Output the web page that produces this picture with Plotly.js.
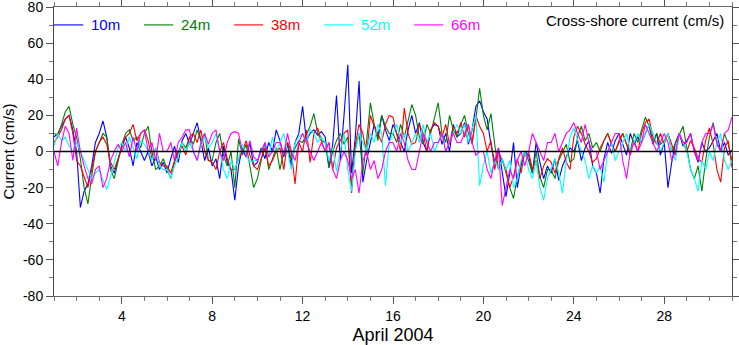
<!DOCTYPE html>
<html>
<head>
<meta charset="utf-8">
<script src="https://cdn.plot.ly/plotly-3.0.1.min.js"></script>
<style>html,body{margin:0;padding:0;background:#fff}#chart{width:739px;height:345px}</style>
</head>
<body>
<div id="chart"></div>
<script>
// Depth labels and colours
const depths = ["10m", "24m", "38m", "52m", "66m"];
const colors = ["#0000ff", "#008000", "#ff0000", "#00ffff", "#ff00ff"];
// Sampling: every 4 hours from April 1 (day 1) to day 31
const startDay = 1, samplesPerDay = 6, nDays = 30;
const xTicks = [4, 8, 12, 16, 20, 24, 28];
const yTicks = [-80, -60, -40, -20, 0, 20, 40, 60, 80];

// Cross-shore current (cm/s), 6 values per day
const cur10 = [
 8,10,14,18,20,12,   0,-31,-22,-18,-8,5,   10,17,8,-8,-12,-5,   3,8,2,-8,5,0,
 -5,0,-8,-3,-10,-6,  -12,-4,3,-6,6,10,     4,10,16,6,-5,2,      -8,-4,-15,3,-6,-10,
 -27,-8,2,-3,5,-8,   -6,2,-4,5,0,12,       6,-3,4,-8,5,10,      25,6,10,12,9,11,
 8,-9,4,31,-5,20,    48,-12,8,39,-17,-5,   5,15,8,20,12,6,      15,10,4,0,12,20,
 10,16,5,0,12,15,    14,4,10,0,15,8,       10,16,4,12,25,28,    22,18,4,-6,2,-12,
 -25,-12,5,-20,-8,0, -2,-12,5,-6,-15,-8,   -12,-4,-16,-8,-3,2,  0,6,-5,2,6,-8,
 -12,-23,-4,5,-1,6,  10,4,-2,10,4,8,       5,10,15,4,10,-2,     5,-20,-6,5,10,3,
 6,10,0,-6,5,0,      2,6,10,0,5,-2,        1
];
const cur24 = [
 10,9,15,22,25,15,   8,-4,-20,-29,-14,0,   5,10,8,-10,-15,-6,   4,10,12,6,8,2,
 10,14,0,-10,-8,-4,  -10,-15,-6,0,5,2,     8,4,12,6,10,-5,      -5,5,10,-2,-8,0,
 -20,7,-2,4,-8,-20,  -15,-5,5,-10,-4,2,    -10,0,5,-5,2,6,      5,10,14,21,10,6,
 5,-9,0,6,10,4,      8,-20,2,10,-12,6,     27,15,6,20,14,10,    10,5,15,8,18,26,
 20,8,4,15,10,18,    27,10,5,20,12,8,      15,20,10,5,18,35,    20,12,21,4,-10,-4,
 -12,-20,-26,-14,-6,0, -5,-12,0,-14,-20,-10, -10,-15,-5,0,4,-6, -4,8,14,6,10,2,
 5,0,6,10,4,0,       5,10,4,0,10,5,        12,19,14,5,10,4,     6,10,0,5,10,14,
 2,-10,-15,-8,-22,-5, 8,16,4,0,10,4,        -5
];
const cur38 = [
 5,8,12,18,20,10,    -5,-8,-14,-20,-10,0,  5,8,4,-6,-10,-4,     2,8,10,15,6,10,
 12,6,-4,2,-6,-8,    -8,-12,-5,0,3,-2,     8,10,5,12,0,-5,      -6,-10,0,5,-4,-10,
 -10,-4,0,6,-2,-8,   -10,-4,2,-8,-5,0,     2,-10,5,0,-18,5,     0,12,-6,10,13,6,
 0,5,-10,2,6,10,     12,-23,4,15,10,-2,    20,14,10,5,15,20,    19,10,0,24,10,4,
 5,15,10,0,12,16,    14,8,15,4,14,10,      16,8,15,4,20,14,     10,0,6,-10,0,-5,
 -10,-20,-14,-4,-12,0, 0,-10,-5,-15,-8,-4, -6,-12,-4,2,-6,-10,  8,14,10,4,0,-6,
 -4,2,6,10,4,0,      6,10,4,-2,6,0,        10,16,18,8,4,10,     4,10,4,-2,10,5,
 0,6,2,-4,-6,6,      13,4,-10,-17,2,6,     -9
];
const cur52 = [
 3,10,6,8,3,0,       5,0,-6,-10,-15,-12,   -10,-16,-21,-14,-6,2, 5,0,8,2,-4,6,
 4,0,-5,2,-8,-10,    -10,-15,-8,-3,5,0,    5,0,-5,3,8,2,        5,10,0,-10,-15,-5,
 -10,-4,4,-2,-6,-5,  -5,0,5,-3,8,0,        5,10,0,-10,5,8,      10,5,12,10,5,8,
 5,-5,2,-11,0,10,    -10,-22,0,10,5,0,     10,5,15,10,-19,5,    10,15,5,10,0,5,
 10,5,15,5,10,0,     5,10,0,5,10,15,       10,15,5,12,20,-19,   -8,0,-12,-5,-10,-4,
 -10,-5,-20,-15,-5,0, -10,-15,-5,-20,-27,-15, -10,-4,-12,-23,-5,8, 13,6,0,-5,-15,-8,
 -12,-8,-17,0,5,-5,  0,5,10,0,5,10,        5,10,15,10,5,0,      5,10,0,-5,10,5,
 0,-10,-15,-22,-5,-10, 0,-5,5,10,-5,-10,    -5
];
const cur66 = [
 0,-8,5,14,10,-5,    13,0,-8,-15,-18,-10,  -8,-20,-15,-5,0,4,   0,5,-3,8,0,10,
 12,0,5,-5,10,0,     0,5,-5,5,8,12,        12,0,-5,5,10,4,      10,12,0,-5,5,10,
 11,10,0,-3,6,-3,    -5,0,5,-3,0,5,        5,-2,10,0,-5,5,      10,5,0,-5,0,5,
 0,5,-10,-15,-5,0,   -5,-15,-10,-23,-5,0,  -10,-5,-15,-10,0,5,  5,0,10,5,-5,-10,
 -10,0,10,5,0,5,     5,10,0,5,10,5,        5,10,15,5,-2,0,      0,-10,-15,-5,2,-30,
 -20,-10,-15,-5,0,-8, 0,10,5,0,-5,5,       5,10,0,5,10,12,      16,10,5,15,5,0,
 0,-10,-5,0,5,10,    10,-5,-15,0,5,0,      5,15,10,5,0,5,       10,5,-5,0,10,5,
 5,10,0,-5,5,10,     10,15,5,0,10,12,      19
];

const series = [cur10, cur24, cur38, cur52, cur66];
const times = [];
for (let i = 0; i <= nDays * samplesPerDay; i++) times.push(startDay + i / samplesPerDay);

const traces = series.map((s, k) => ({
  x: times, y: s, type: "scatter", mode: "lines",
  name: depths[k],
  line: {color: colors[k], width: 1.1},
  hoverinfo: "skip", showlegend: false
}));

const fam = "Liberation Sans, Arial, sans-serif";
const font = {family: fam, size: 14, color: "#000"};

// Legend drawn as a row of line samples and coloured labels (paper coordinates)
const legY = 0.938, legStep = 0.1328, legLine = 0.043, legText = 0.052;
const shapes = [{type: "line", xref: "paper", x0: 0, x1: 1, yref: "y", y0: 0, y1: 0,
                 line: {color: "#000", width: 1.5}, layer: "above"}];
const annotations = [{text: "Cross-shore current (cm/s)", xref: "paper", yref: "paper",
                 x: 0.991, y: 0.955, xanchor: "right", yanchor: "middle",
                 showarrow: false, font: {family: fam, size: 15, color: "#000"}}];
depths.forEach((d, k) => {
  const x0 = k * legStep;
  shapes.push({type: "line", xref: "paper", yref: "paper", x0: x0, x1: x0 + legLine,
               y0: legY, y1: legY, line: {color: colors[k], width: 1.1}});
  annotations.push({text: d, xref: "paper", yref: "paper", x: x0 + legText, y: legY,
                    xanchor: "left", yanchor: "middle", showarrow: false,
                    font: {family: fam, size: 15, color: colors[k]}});
});

const layout = {
  width: 739, height: 345,
  margin: {l: 54, r: 7, t: 7, b: 49},
  paper_bgcolor: "#fff", plot_bgcolor: "#fff",
  font: font,
  showlegend: false,
  xaxis: {
    range: [1, 31], tickvals: xTicks, ticktext: xTicks.map(String),
    ticks: "outside", ticklen: 7, tickcolor: "#555", tickwidth: 1,
    minor: {dtick: 1, tick0: 0, ticks: "outside", ticklen: 4, tickcolor: "#777"},
    showline: true, linecolor: "#666", linewidth: 1, mirror: "ticks",
    showgrid: false, zeroline: false, ticklabeloverflow: "allow",
    title: {text: "April 2004", font: {family: fam, size: 18}, standoff: 5},
    tickfont: font
  },
  yaxis: {
    range: [-80, 80], tickmode: "array", tickvals: yTicks, ticktext: yTicks.map(String),
    ticks: "outside", ticklen: 7, tickcolor: "#555", tickwidth: 1,
    minor: {dtick: 10, tick0: 0, ticks: "outside", ticklen: 4, tickcolor: "#777"},
    showline: true, linecolor: "#444", linewidth: 1, mirror: "ticks",
    showgrid: false, zeroline: false, ticklabeloverflow: "allow",
    title: {text: "Current (cm/s)", font: {family: fam, size: 15}, standoff: 4},
    tickfont: font
  },
  shapes: shapes,
  annotations: annotations
};

Plotly.newPlot("chart", traces, layout, {displayModeBar: false, staticPlot: true});
</script>
</body>
</html>
